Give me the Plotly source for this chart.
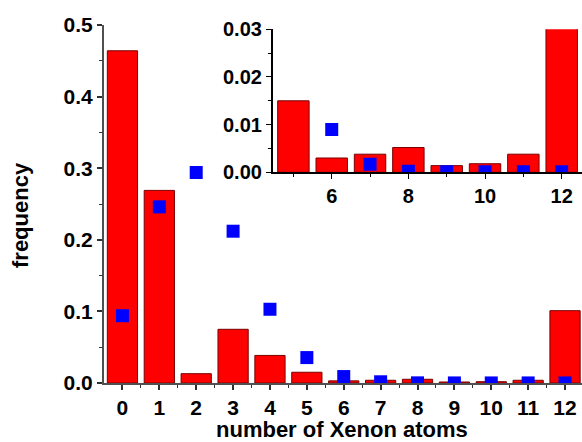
import plotly.graph_objects as go

# Number of xenon atoms per site and the observed / modelled frequencies
n_atoms = [0, 1, 2, 3, 4, 5, 6, 7, 8, 9, 10, 11, 12]
freq_bars = [0.464, 0.269, 0.013, 0.075, 0.0385, 0.015, 0.003, 0.0038,
             0.0052, 0.0014, 0.0018, 0.0038, 0.101]
freq_points = [0.094, 0.246, 0.294, 0.212, 0.103, 0.0355, 0.009, 0.0017,
               0.0002, 0.0001, 0.0001, 0.0001, 0.0001]

main_ticks = [0.0, 0.1, 0.2, 0.3, 0.4, 0.5]
inset_ticks = [0.00, 0.01, 0.02, 0.03]
inset_xticks = [6, 8, 10, 12]

FONT = "Liberation Sans, Arial, sans-serif"
RED = "#ff0000"
BLUE = "#0000ff"
W, H = 582, 442
ML, MR, MT, MB = 104, 0, 25, 59
PW, PH = W - ML - MR, H - MT - MB


def px_x(x):
    return (x - ML) / PW


def px_y(y):
    return (H - MB - y) / PH


fig = go.Figure()

bar_style = dict(marker=dict(color=RED, line=dict(color="#7a0000", width=1)),
                 width=0.82, showlegend=False, hoverinfo="skip")
pt_style = dict(mode="markers", showlegend=False, hoverinfo="skip",
                marker=dict(symbol="square", size=13, color=BLUE, line=dict(width=0)))

# main panel
fig.add_trace(go.Bar(x=n_atoms, y=freq_bars, xaxis="x", yaxis="y", **bar_style))
fig.add_trace(go.Scatter(x=n_atoms, y=freq_points, xaxis="x", yaxis="y", cliponaxis=True, **pt_style))

# inset zoomed on the tail
fig.add_trace(go.Bar(x=n_atoms, y=freq_bars, xaxis="x2", yaxis="y2", **bar_style))
fig.add_trace(go.Scatter(x=n_atoms, y=freq_points, xaxis="x2", yaxis="y2", cliponaxis=True, **pt_style))

main_axis = dict(showline=True, linecolor="#505050", linewidth=2, showgrid=False,
                 zeroline=False, ticks="outside", ticklen=5, tickwidth=1.5,
                 tickcolor="#303030",
                 tickfont=dict(family=FONT, size=21, color="black", weight="bold"))
inset_axis = dict(showline=True, linecolor="black", linewidth=1.5, showgrid=False,
                  zeroline=False, ticks="outside", ticklen=5, tickwidth=1.2,
                  tickcolor="black",
                  tickfont=dict(family=FONT, size=20, color="black", weight="bold"))

fig.update_layout(
    width=W, height=H,
    margin=dict(l=ML, r=MR, t=MT, b=MB, pad=0),
    paper_bgcolor="white", plot_bgcolor="rgba(0,0,0,0)",
    barmode="overlay",
    xaxis=dict(domain=[0, 1], range=[-0.5, 12.46], tickmode="array",
               tickvals=n_atoms, ticktext=[str(v) for v in n_atoms],
               minor=dict(tickvals=[v + 0.5 for v in n_atoms[:-1]], ticks="outside",
                          ticklen=3, tickwidth=1.2, tickcolor="#303030"),
               **main_axis),
    yaxis=dict(domain=[0, 1], range=[0, 0.5], tickmode="array", tickvals=main_ticks,
               ticktext=[f"{v:.1f}" for v in main_ticks],
               minor=dict(tickvals=[0.05, 0.15, 0.25, 0.35, 0.45], ticks="outside",
                          ticklen=3, tickwidth=1.2, tickcolor="#303030"),
               **main_axis),
    xaxis2=dict(domain=[px_x(272.7), 1], range=[4.46, 12.53], anchor="y2",
                tickmode="array", tickvals=inset_xticks,
                ticktext=[str(v) for v in inset_xticks],
                minor=dict(tickvals=[5, 7, 9, 11], ticks="outside", ticklen=3,
                           tickwidth=1.2, tickcolor="black"),
                **inset_axis),
    yaxis2=dict(domain=[px_y(172.3), px_y(29.3)], range=[0, 0.03], anchor="x2",
                tickmode="array", tickvals=inset_ticks,
                ticktext=[f"{v:.2f}" for v in inset_ticks],
                minor=dict(tickvals=[0.005, 0.015, 0.025], ticks="outside", ticklen=3,
                           tickwidth=1.2, tickcolor="black"),
                **inset_axis),
    annotations=[
        dict(text="frequency", textangle=-90, xref="paper", yref="paper",
             x=px_x(20), y=px_y(215), xanchor="center", yanchor="middle",
             showarrow=False, font=dict(family=FONT, size=22, color="black", weight="bold")),
        dict(text="number of Xenon atoms", xref="paper", yref="paper",
             x=px_x(342), y=px_y(429), xanchor="center", yanchor="middle",
             showarrow=False, font=dict(family=FONT, size=22, color="black", weight="bold")),
    ],
)

fig.write_html("out.html")
